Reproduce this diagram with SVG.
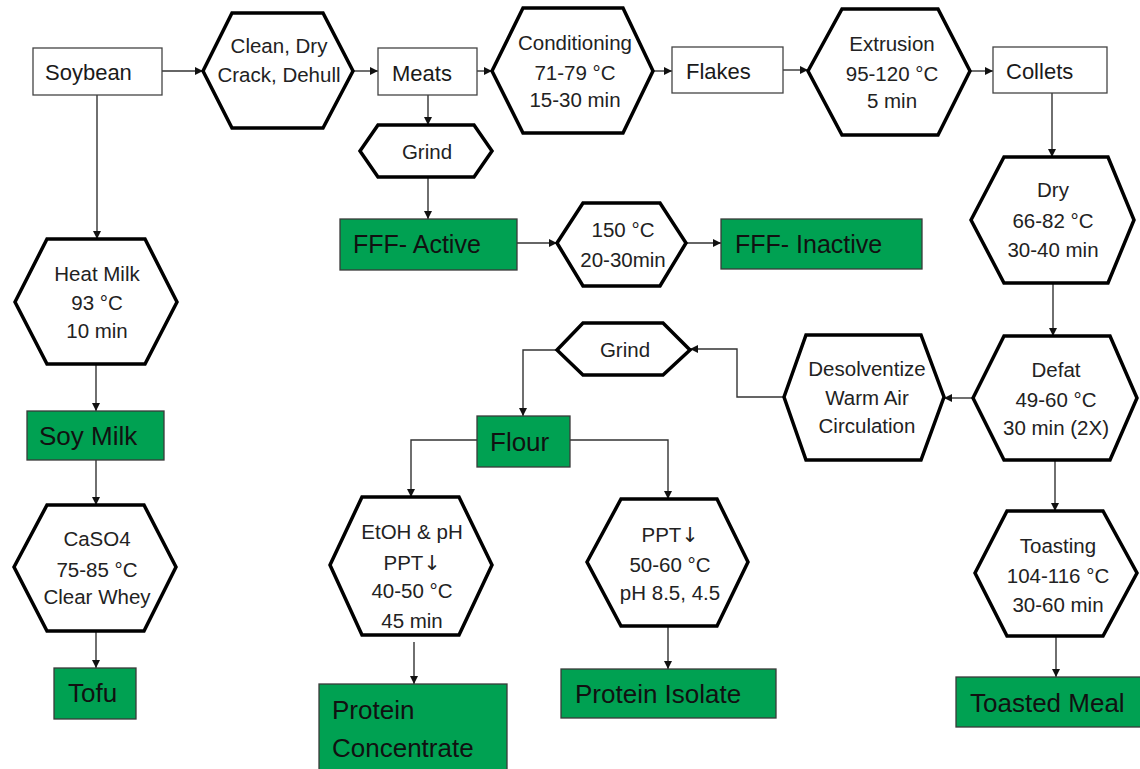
<svg xmlns="http://www.w3.org/2000/svg" width="1140" height="769" viewBox="0 0 1140 769">
<style>
.hex{fill:#fff;stroke:#000;stroke-width:3.5;stroke-linejoin:miter}
.box{fill:#fff;stroke:#444;stroke-width:1.3}
.gbox{fill:#00a152;stroke:#3a3a3a;stroke-width:1.3}
.ht{font-family:"Liberation Sans",Arial,sans-serif;font-size:20.5px;fill:#222;text-anchor:middle}
.bt{font-family:"Liberation Sans",Arial,sans-serif;font-size:22px;fill:#1a1a1a}
.gt{font-family:"Liberation Sans",Arial,sans-serif;font-size:26px;fill:#111}
.ft{font-family:"Liberation Sans",Arial,sans-serif;font-size:25px;fill:#111}
.ar{font-family:"DejaVu Sans",sans-serif;fill:#222}
.c{fill:none;stroke:#333;stroke-width:1.4}
</style>
<defs>
<marker id="ah" markerUnits="userSpaceOnUse" markerWidth="9" markerHeight="9" refX="8" refY="4" orient="auto">
<path d="M0,0 L8,4 L0,8 z" fill="#111"/>
</marker>
</defs>
<rect width="1140" height="769" fill="#fff"/>
<g id="connectors">
<path class="c" d="M162,71 H203" marker-end="url(#ah)"/>
<path class="c" d="M353,71 H378" marker-end="url(#ah)"/>
<path class="c" d="M477,71 H492" marker-end="url(#ah)"/>
<path class="c" d="M653,71 H672" marker-end="url(#ah)"/>
<path class="c" d="M783,70 H808" marker-end="url(#ah)"/>
<path class="c" d="M970,71 H993" marker-end="url(#ah)"/>
<path class="c" d="M1052,93 V157" marker-end="url(#ah)"/>
<path class="c" d="M1053,283 V336" marker-end="url(#ah)"/>
<path class="c" d="M973,398 H944" marker-end="url(#ah)"/>
<path class="c" d="M784,397 H737 V349 H690" marker-end="url(#ah)"/>
<path class="c" d="M557,350 H523 V416" marker-end="url(#ah)"/>
<path class="c" d="M477,440 H411 V497" marker-end="url(#ah)"/>
<path class="c" d="M570,440 H668 V499" marker-end="url(#ah)"/>
<path class="c" d="M414,642 V684" marker-end="url(#ah)"/>
<path class="c" d="M668,626 V669" marker-end="url(#ah)"/>
<path class="c" d="M1055,460 V511" marker-end="url(#ah)"/>
<path class="c" d="M1056,636 V677" marker-end="url(#ah)"/>
<path class="c" d="M428,95 V125" marker-end="url(#ah)"/>
<path class="c" d="M428,177 V219" marker-end="url(#ah)"/>
<path class="c" d="M517,243 H557" marker-end="url(#ah)"/>
<path class="c" d="M686,243 H721" marker-end="url(#ah)"/>
<path class="c" d="M97,95 V239" marker-end="url(#ah)"/>
<path class="c" d="M96,364 V411" marker-end="url(#ah)"/>
<path class="c" d="M96,460 V505" marker-end="url(#ah)"/>
<path class="c" d="M96,631 V668" marker-end="url(#ah)"/>
</g>
<g id="soybean"><rect class="box" x="33" y="48" width="129" height="47"/><text class="bt" x="45" y="80">Soybean</text></g>
<g id="clean"><polygon class="hex" points="203,71 232,13 323,13 353,71 323,128 232,128"/><text class="ht" x="279" y="53">Clean, Dry</text><text class="ht" x="279" y="82">Crack, Dehull</text></g>
<g id="meats"><rect class="box" x="378" y="48" width="99" height="47"/><text class="bt" x="392" y="81">Meats</text></g>
<g id="conditioning"><polygon class="hex" points="492,71 523,8 623,8 653,71 623,133 523,133"/><text class="ht" x="575" y="50">Conditioning</text><text class="ht" x="575" y="80">71-79 °C</text><text class="ht" x="575" y="107">15-30 min</text></g>
<g id="flakes"><rect class="box" x="672" y="47" width="111" height="46"/><text class="bt" x="686" y="79">Flakes</text></g>
<g id="extrusion"><polygon class="hex" points="808,71 842,9 938,9 970,71 938,135 842,135"/><text class="ht" x="892" y="51">Extrusion</text><text class="ht" x="892" y="81">95-120 °C</text><text class="ht" x="892" y="108">5  min</text></g>
<g id="collets"><rect class="box" x="993" y="47" width="114" height="46"/><text class="bt" x="1006" y="79">Collets</text></g>
<g id="grind1"><polygon class="hex" points="360,151 378,125 474,125 492,151 474,177 378,177"/><text class="ht" x="427" y="159">Grind</text></g>
<g id="fff-active"><rect class="gbox" x="340" y="219" width="177" height="51"/><text class="ft" x="353" y="253">FFF- Active</text></g>
<g id="heat150"><polygon class="hex" points="557,243 583,203 660,203 686,243 660,286 583,286"/><text class="ht" x="623" y="237">150 °C</text><text class="ht" x="623" y="267">20-30min</text></g>
<g id="fff-inactive"><rect class="gbox" x="721" y="219" width="201" height="50"/><text class="ft" x="735" y="253">FFF- Inactive</text></g>
<g id="dry"><polygon class="hex" points="971,220 1004,157 1108,157 1134,220 1108,283 1004,283"/><text class="ht" x="1053" y="197">Dry</text><text class="ht" x="1053" y="228">66-82 °C</text><text class="ht" x="1053" y="257">30-40  min</text></g>
<g id="defat"><polygon class="hex" points="973,398 1004,336 1110,336 1137,398 1110,460 1004,460"/><text class="ht" x="1056" y="377">Defat</text><text class="ht" x="1056" y="407">49-60 °C</text><text class="ht" x="1056" y="435">30 min (2X)</text></g>
<g id="desolventize"><polygon class="hex" points="784,397 806,335 921,335 944,397 921,460 806,460"/><text class="ht" x="867" y="376">Desolventize</text><text class="ht" x="867" y="405">Warm Air</text><text class="ht" x="867" y="433">Circulation</text></g>
<g id="grind2"><polygon class="hex" points="557,350 583,323 663,323 690,350 663,375 583,375"/><text class="ht" x="625" y="357">Grind</text></g>
<g id="flour"><rect class="gbox" x="477" y="416" width="93" height="51"/><text class="gt" x="490" y="451">Flour</text></g>
<g id="etoh"><polygon class="hex" points="330,565 362,497 459,497 492,565 459,635 362,635"/><text class="ht" x="412" y="539">EtOH &amp; pH</text><text class="ht" x="412" y="570">PPT<tspan class="ar">↓</tspan></text><text class="ht" x="412" y="598">40-50 °C</text><text class="ht" x="412" y="628">45 min</text></g>
<g id="ppt"><polygon class="hex" points="587,562 621,499 717,499 748,562 717,626 621,626"/><text class="ht" x="670" y="542">PPT<tspan class="ar">↓</tspan></text><text class="ht" x="670" y="572">50-60 °C</text><text class="ht" x="670" y="600">pH 8.5, 4.5</text></g>
<g id="protein-concentrate"><rect class="gbox" x="319" y="684" width="188" height="95"/><text class="gt" x="332" y="719">Protein</text><text class="gt" x="332" y="757">Concentrate</text></g>
<g id="protein-isolate"><rect class="gbox" x="561" y="669" width="215" height="49"/><text class="gt" x="575" y="703">Protein Isolate</text></g>
<g id="toasting"><polygon class="hex" points="975,573 1007,511 1103,511 1137,573 1103,636 1007,636"/><text class="ht" x="1058" y="553">Toasting</text><text class="ht" x="1058" y="583">104-116 °C</text><text class="ht" x="1058" y="612">30-60  min</text></g>
<g id="toasted-meal"><rect class="gbox" x="956" y="677" width="195" height="50"/><text class="gt" x="970" y="712">Toasted Meal</text></g>
<g id="heat-milk"><polygon class="hex" points="15,302 47,239 145,239 177,302 145,364 47,364"/><text class="ht" x="97" y="281">Heat Milk</text><text class="ht" x="97" y="310">93 °C</text><text class="ht" x="97" y="338">10  min</text></g>
<g id="soy-milk"><rect class="gbox" x="27" y="411" width="137" height="49"/><text class="gt" x="39" y="445">Soy Milk</text></g>
<g id="caso4"><polygon class="hex" points="14,567 47,505 144,505 176,567 144,631 47,631"/><text class="ht" x="97" y="546">CaSO4</text><text class="ht" x="97" y="577">75-85 °C</text><text class="ht" x="97" y="604">Clear Whey</text></g>
<g id="tofu"><rect class="gbox" x="54" y="668" width="82" height="51"/><text class="gt" x="68" y="702">Tofu</text></g>
</svg>
